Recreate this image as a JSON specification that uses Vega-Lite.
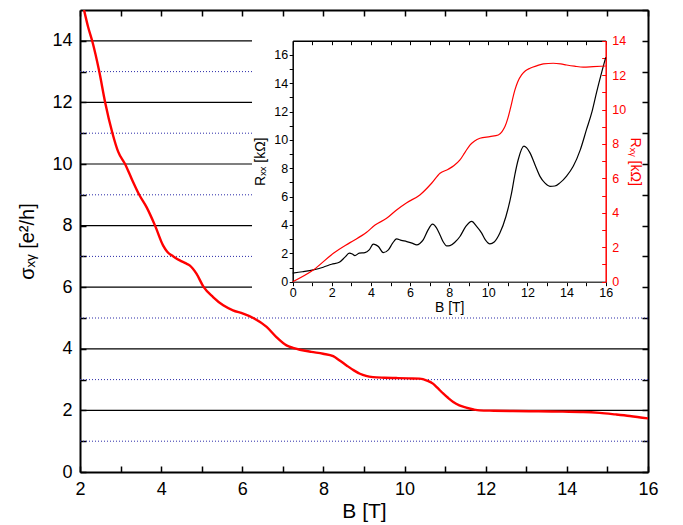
{
  "$schema": "https://vega.github.io/schema/vega-lite/v6.json",
  "width": 568,
  "height": 462,
  "autosize": {"type": "none"},
  "padding": {"left": 80, "top": 10, "right": 35, "bottom": 53},
  "background": "white",
  "config": {
    "view": {"stroke": null},
    "font": "Liberation Sans",
    "axis": {
      "domainColor": "black", "tickColor": "black", "labelColor": "black", "titleColor": "black",
      "titleFontWeight": "normal", "grid": false, "labelFont": "Liberation Sans", "titleFont": "Liberation Sans",
      "labelFlush": false, "labelOverlap": false
    }
  },
  "datasets": {
    "even": [
      {"x1": 2, "x2": 16, "y": 2}, {"x1": 2, "x2": 16, "y": 4},
      {"x1": 2, "x2": 6.24, "y": 6}, {"x1": 2, "x2": 6.24, "y": 8}, {"x1": 2, "x2": 6.24, "y": 10},
      {"x1": 2, "x2": 6.24, "y": 12}, {"x1": 2, "x2": 6.24, "y": 14}
    ],
    "odd": [
      {"x1": 2, "x2": 16, "y": 1}, {"x1": 2, "x2": 16, "y": 3}, {"x1": 2, "x2": 16, "y": 5},
      {"x1": 2, "x2": 6.24, "y": 7}, {"x1": 2, "x2": 6.24, "y": 9}, {"x1": 2, "x2": 6.24, "y": 11},
      {"x1": 2, "x2": 6.24, "y": 13}
    ],
    "sigma": [
      {"B": 2.10, "s": 15.0}, {"B": 2.20, "s": 14.45}, {"B": 2.30, "s": 14.0}, {"B": 2.475, "s": 13.0},
      {"B": 2.62, "s": 12.0}, {"B": 2.80, "s": 11.0}, {"B": 2.94, "s": 10.4}, {"B": 3.11, "s": 10.0},
      {"B": 3.28, "s": 9.5}, {"B": 3.46, "s": 9.0}, {"B": 3.64, "s": 8.6}, {"B": 3.85, "s": 8.0},
      {"B": 4.05, "s": 7.35}, {"B": 4.15, "s": 7.15}, {"B": 4.30, "s": 7.0}, {"B": 4.46, "s": 6.87},
      {"B": 4.60, "s": 6.78}, {"B": 4.71, "s": 6.7}, {"B": 4.87, "s": 6.44}, {"B": 5.05, "s": 6.0},
      {"B": 5.28, "s": 5.68}, {"B": 5.53, "s": 5.41}, {"B": 5.77, "s": 5.25}, {"B": 6.02, "s": 5.14},
      {"B": 6.27, "s": 5.0}, {"B": 6.60, "s": 4.71}, {"B": 6.84, "s": 4.38}, {"B": 7.09, "s": 4.11},
      {"B": 7.25, "s": 4.03}, {"B": 7.42, "s": 3.97}, {"B": 7.70, "s": 3.9}, {"B": 7.99, "s": 3.84},
      {"B": 8.24, "s": 3.76}, {"B": 8.40, "s": 3.62}, {"B": 8.57, "s": 3.46}, {"B": 8.75, "s": 3.3},
      {"B": 8.90, "s": 3.19}, {"B": 9.05, "s": 3.12}, {"B": 9.22, "s": 3.08}, {"B": 9.50, "s": 3.06},
      {"B": 9.80, "s": 3.05}, {"B": 10.10, "s": 3.04}, {"B": 10.37, "s": 3.03}, {"B": 10.55, "s": 2.97},
      {"B": 10.70, "s": 2.87}, {"B": 10.82, "s": 2.72}, {"B": 10.95, "s": 2.55}, {"B": 11.08, "s": 2.4},
      {"B": 11.20, "s": 2.27}, {"B": 11.35, "s": 2.16}, {"B": 11.52, "s": 2.09}, {"B": 11.70, "s": 2.03},
      {"B": 11.85, "s": 2.0}, {"B": 12.20, "s": 1.99}, {"B": 12.67, "s": 1.98}, {"B": 13.30, "s": 1.97},
      {"B": 13.90, "s": 1.96}, {"B": 14.40, "s": 1.95}, {"B": 14.81, "s": 1.92}, {"B": 15.20, "s": 1.87},
      {"B": 15.55, "s": 1.82}, {"B": 16.0, "s": 1.74}
    ],
    "rxx": [
      {"B": 0, "R": 0.6}, {"B": 0.5, "R": 0.7}, {"B": 1.05, "R": 0.83}, {"B": 1.56, "R": 1.02},
      {"B": 1.99, "R": 1.23}, {"B": 2.38, "R": 1.37}, {"B": 2.67, "R": 1.73}, {"B": 2.89, "R": 2.01},
      {"B": 3.05, "R": 1.95}, {"B": 3.18, "R": 1.84}, {"B": 3.40, "R": 2.01}, {"B": 3.69, "R": 2.05},
      {"B": 3.91, "R": 2.24}, {"B": 4.12, "R": 2.65}, {"B": 4.25, "R": 2.6}, {"B": 4.38, "R": 2.48},
      {"B": 4.63, "R": 2.05}, {"B": 4.89, "R": 2.24}, {"B": 5.10, "R": 2.7}, {"B": 5.31, "R": 3.02},
      {"B": 5.55, "R": 2.92}, {"B": 5.83, "R": 2.83}, {"B": 6.10, "R": 2.72}, {"B": 6.34, "R": 2.6},
      {"B": 6.50, "R": 2.7}, {"B": 6.67, "R": 2.95}, {"B": 6.90, "R": 3.6}, {"B": 7.15, "R": 4.06},
      {"B": 7.35, "R": 3.8}, {"B": 7.53, "R": 3.3}, {"B": 7.70, "R": 2.8}, {"B": 7.87, "R": 2.53},
      {"B": 8.04, "R": 2.55}, {"B": 8.30, "R": 2.8}, {"B": 8.55, "R": 3.19}, {"B": 8.85, "R": 3.9},
      {"B": 9.15, "R": 4.25}, {"B": 9.40, "R": 3.9}, {"B": 9.66, "R": 3.43}, {"B": 9.85, "R": 2.95},
      {"B": 10.08, "R": 2.67}, {"B": 10.30, "R": 2.8}, {"B": 10.59, "R": 3.43}, {"B": 10.90, "R": 4.6},
      {"B": 11.19, "R": 6.26}, {"B": 11.35, "R": 7.5}, {"B": 11.53, "R": 8.62}, {"B": 11.82, "R": 9.56},
      {"B": 12.13, "R": 9.09}, {"B": 12.40, "R": 8.2}, {"B": 12.64, "R": 7.43}, {"B": 12.90, "R": 6.95},
      {"B": 13.15, "R": 6.73}, {"B": 13.40, "R": 6.75}, {"B": 13.66, "R": 6.97}, {"B": 14.00, "R": 7.45},
      {"B": 14.34, "R": 8.14}, {"B": 14.70, "R": 9.3}, {"B": 15.02, "R": 10.74}, {"B": 15.30, "R": 12.0},
      {"B": 15.53, "R": 13.34}, {"B": 15.80, "R": 14.8}, {"B": 16.0, "R": 15.82}
    ],
    "rxy": [
      {"B": 0, "R": 0}, {"B": 1.05, "R": 0.68}, {"B": 2.08, "R": 1.65}, {"B": 2.93, "R": 2.27},
      {"B": 3.78, "R": 2.87}, {"B": 4.21, "R": 3.29}, {"B": 4.80, "R": 3.68}, {"B": 5.31, "R": 4.17},
      {"B": 5.83, "R": 4.59}, {"B": 6.50, "R": 5.04}, {"B": 7.10, "R": 5.72}, {"B": 7.53, "R": 6.3},
      {"B": 7.95, "R": 6.53}, {"B": 8.25, "R": 6.75}, {"B": 8.55, "R": 7.07}, {"B": 8.80, "R": 7.5},
      {"B": 9.06, "R": 7.94}, {"B": 9.30, "R": 8.18}, {"B": 9.57, "R": 8.33}, {"B": 10.08, "R": 8.43},
      {"B": 10.51, "R": 8.52}, {"B": 10.70, "R": 8.72}, {"B": 10.85, "R": 9.01}, {"B": 11.00, "R": 9.5},
      {"B": 11.11, "R": 9.98}, {"B": 11.36, "R": 11.14}, {"B": 11.50, "R": 11.6}, {"B": 11.70, "R": 12.01},
      {"B": 11.90, "R": 12.25}, {"B": 12.13, "R": 12.4}, {"B": 12.50, "R": 12.55}, {"B": 12.81, "R": 12.65},
      {"B": 13.32, "R": 12.69}, {"B": 13.70, "R": 12.65}, {"B": 14.00, "R": 12.59}, {"B": 14.40, "R": 12.52},
      {"B": 14.85, "R": 12.46}, {"B": 15.36, "R": 12.49}, {"B": 16.0, "R": 12.53}
    ]
  },
  "layer": [
    {
      "layer": [
        {
          "data": {"name": "even"},
          "mark": {"type": "rule", "color": "black", "strokeWidth": 1.2},
          "encoding": {
            "x": {"field": "x1", "type": "quantitative", "scale": {"domain": [2, 16], "nice": false},
              "axis": {"orient": "top", "values": [2,3,4,5,6,7,8,9,10,11,12,13,14,15,16], "labels": false,
                "tickSize": -6, "tickWidth": 1.5, "title": null, "domainWidth": 2}},
            "x2": {"field": "x2"},
            "y": {"field": "y", "type": "quantitative", "scale": {"domain": [0, 15], "nice": false},
              "axis": {"orient": "right", "values": [0,1,2,3,4,5,6,7,8,9,10,11,12,13,14,15], "labels": false,
                "tickSize": -6, "tickWidth": 1.5, "title": null, "domainWidth": 2}}
          }
        },
        {
          "data": {"name": "odd"},
          "mark": {"type": "rule", "color": "#2a2aa8", "strokeWidth": 1, "strokeDash": [1, 2]},
          "encoding": {
            "x": {"field": "x1", "type": "quantitative", "axis": null},
            "x2": {"field": "x2"},
            "y": {"field": "y", "type": "quantitative", "axis": null}
          }
        },
        {
          "data": {"name": "sigma"},
          "mark": {"type": "line", "color": "#ff0000", "strokeWidth": 2.4, "clip": true, "interpolate": "monotone"},
          "encoding": {
            "x": {"field": "B", "type": "quantitative",
              "axis": {"orient": "bottom", "values": [2,3,4,5,6,7,8,9,10,11,12,13,14,15,16],
                "labelExpr": "datum.value % 2 === 0 ? datum.label : ''",
                "tickSize": -6, "tickWidth": 1.5, "labelPadding": 14, "labelFontSize": 18,
                "title": "B [T]", "titleFontSize": 21, "titlePadding": 2, "domainWidth": 2}},
            "y": {"field": "s", "type": "quantitative",
              "axis": {"orient": "left", "values": [0,1,2,3,4,5,6,7,8,9,10,11,12,13,14],
                "labelExpr": "datum.value % 2 === 0 ? datum.label : ''",
                "tickSize": -6, "tickWidth": 1.5, "labelPadding": 14, "labelFontSize": 18,
                "title": "σₓᵧ [e²/h]", "titleFontSize": 20, "titlePadding": 14, "domainWidth": 2}}
          }
        }
      ],
      "resolve": {"axis": {"x": "independent", "y": "independent"}}
    },
    {
      "layer": [
        {
          "data": {"name": "rxx"},
          "mark": {"type": "line", "color": "black", "strokeWidth": 1.2, "interpolate": "monotone"},
          "encoding": {
            "x": {"field": "B", "type": "quantitative", "scale": {"domain": [0, 16], "range": [212.7, 525.7], "nice": false},
              "axis": {"orient": "bottom", "offset": -190.3, "values": [0,1,2,3,4,5,6,7,8,9,10,11,12,13,14,15,16],
                "labelExpr": "datum.value % 2 === 0 ? datum.label : ''",
                "tickSize": 4, "labelPadding": 1, "labelFontSize": 12.5,
                "title": "B [T]", "titleFontSize": 14, "titlePadding": 1, "domainWidth": 1.5, "domainColor": "#444"}},
            "y": {"field": "R", "type": "quantitative", "scale": {"domain": [0, 17], "range": [271.7, 30.7], "nice": false},
              "axis": {"orient": "left", "offset": -212.7, "values": [0,1,2,3,4,5,6,7,8,9,10,11,12,13,14,15,16],
                "labelExpr": "datum.value % 2 === 0 ? datum.label : ''",
                "tickSize": 3.5, "labelPadding": 1.5, "labelFontSize": 12.5,
                "title": "Rₓₓ [kΩ]", "titleFontSize": 14, "titlePadding": 6, "domainWidth": 1.5}}
          }
        },
        {
          "data": {"name": "rxy"},
          "mark": {"type": "line", "color": "#ff0000", "strokeWidth": 1.2, "interpolate": "monotone"},
          "encoding": {
            "x": {"field": "B", "type": "quantitative", "scale": {"domain": [0, 16], "range": [212.7, 525.7], "nice": false},
              "axis": {"orient": "top", "offset": -30.7, "values": [0,1,2,3,4,5,6,7,8,9,10,11,12,13,14,15,16],
                "labels": false, "tickSize": -4, "title": null, "domainWidth": 1.5}},
            "y": {"field": "R", "type": "quantitative", "scale": {"domain": [0, 14], "range": [271.7, 30.7], "nice": false},
              "axis": {"orient": "right", "offset": -42.3, "values": [0,1,2,3,4,5,6,7,8,9,10,11,12,13,14],
                "labelExpr": "datum.value % 2 === 0 ? datum.label : ''",
                "tickSize": -4, "labelPadding": 10, "labelFontSize": 12.5,
                "domainColor": "#ff0000", "tickColor": "#ff0000", "labelColor": "#ff0000", "titleColor": "#ff0000",
                "title": "Rₓᵧ [kΩ]", "titleFontSize": 14, "titlePadding": 2, "domainWidth": 1.5}}
          }
        }
      ],
      "resolve": {"scale": {"y": "independent"}, "axis": {"x": "independent", "y": "independent"}}
    }
  ],
  "resolve": {"scale": {"x": "independent", "y": "independent"}, "axis": {"x": "independent", "y": "independent"}}
}
